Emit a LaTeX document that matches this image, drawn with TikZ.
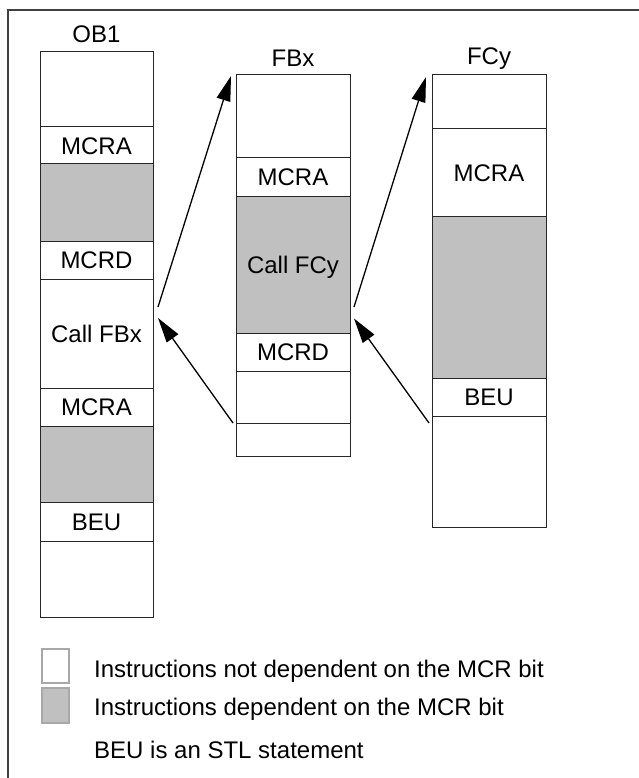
\documentclass[tikz,border=0pt]{standalone}
\usepackage{fontspec}
\setmainfont{Liberation Sans}
\usetikzlibrary{arrows.meta}
\definecolor{cellgray}{HTML}{C0C0C0}
\definecolor{framegray}{HTML}{404040}
\definecolor{legendedge}{HTML}{A8A8A8}
\begin{document}
\begin{tikzpicture}[x=1pt,y=-1pt,
  txt/.style={font=\fontsize{24}{28}\selectfont},
  cellbox/.style={txt,draw=black!85,line width=1pt,inner sep=0pt,outer sep=0pt,
    anchor=north west,text height=17.2pt,text depth=0pt,align=center},
  obcol/.style={cellbox,minimum width=113pt},
  fcol/.style={cellbox,minimum width=114pt},
  dep/.style={fill=cellgray},
  indep/.style={fill=white},
  callarrow/.style={line width=1.3pt,-{Triangle[length=25pt,width=14pt]}},
  legbox/.style={draw=legendedge,line width=1.5pt,inner sep=0pt,minimum width=27pt,anchor=north west},
  title/.style={txt,anchor=base,inner sep=0pt}
]
\fill[white] (0,0) rectangle (638,778);
\useasboundingbox (0,0) rectangle (638,778);
\draw[framegray,line width=1.5pt] (8,780) -- (8,10) -- (640,10);

% OB1
\node[title] (tob) at (96.5,43) {OB1};
\node[obcol,indep,minimum height=75pt] (ob1a) at (40,52) {};
\node[obcol,indep,minimum height=37pt] (ob1b) at (40,127) {MCRA};
\node[obcol,dep,minimum height=77pt] (ob1c) at (40,164) {};
\node[obcol,indep,minimum height=38pt] (ob1d) at (40,241) {MCRD};
\node[obcol,indep,minimum height=109pt] (ob1e) at (40,279) {Call FBx};
\node[obcol,indep,minimum height=38pt] (ob1f) at (40,388) {MCRA};
\node[obcol,dep,minimum height=76pt] (ob1g) at (40,426) {};
\node[obcol,indep,minimum height=39pt] (ob1h) at (40,502) {BEU};
\node[obcol,indep,minimum height=76pt] (ob1i) at (40,541) {};

% FBx
\node[title] (tfb) at (293,66.5) {FBx};
\node[fcol,indep,minimum height=83pt] (fbxa) at (236,75) {};
\node[fcol,indep,minimum height=38pt] (fbxb) at (236,158) {MCRA};
\node[fcol,dep,minimum height=137pt] (fbxc) at (236,196) {Call FCy};
\node[fcol,indep,minimum height=38pt] (fbxd) at (236,333) {MCRD};
\node[fcol,indep,minimum height=52pt] (fbxe) at (236,371) {};
\node[fcol,indep,minimum height=33pt] (fbxf) at (236,423) {};

% FCy
\node[title] (tfc) at (489,65) {FCy};
\node[fcol,indep,minimum height=54pt] (fcya) at (432,75) {};
\node[fcol,indep,minimum height=87pt] (fcyb) at (432,129) {MCRA};
\node[fcol,dep,minimum height=162pt] (fcyc) at (432,216) {};
\node[fcol,indep,minimum height=38pt] (fcyd) at (432,378) {BEU};
\node[fcol,indep,minimum height=111pt] (fcye) at (432,416) {};

% arrows
\draw[callarrow] ([shift={(5,-26.5)}]ob1e.east) -- ([shift={(-5,1)}]fbxa.north west);
\draw[callarrow] ([shift={(-3,0)}]fbxf.north west) -- ([shift={(5,-15.5)}]ob1e.east);
\draw[callarrow] ([shift={(4,42.5)}]fbxc.east) -- ([shift={(-6,2)}]fcya.north west);
\draw[callarrow] ([shift={(-3,7)}]fcye.north west) -- ([shift={(4,54)}]fbxc.east);

% legend
\node[legbox,fill=white,minimum height=34pt] (lw) at (41,648) {};
\node[legbox,fill=cellgray,minimum height=35pt] (lg) at (41,687) {};
\node[txt,anchor=base west,inner sep=0pt] (l1) at (94,677) {Instructions not dependent on the MCR bit};
\node[txt,anchor=base west,inner sep=0pt] (l2) at (94,715) {Instructions dependent on the MCR bit};
\node[txt,anchor=base west,inner sep=0pt] (l3) at (94,758) {BEU is an STL statement};
\end{tikzpicture}
\end{document}
